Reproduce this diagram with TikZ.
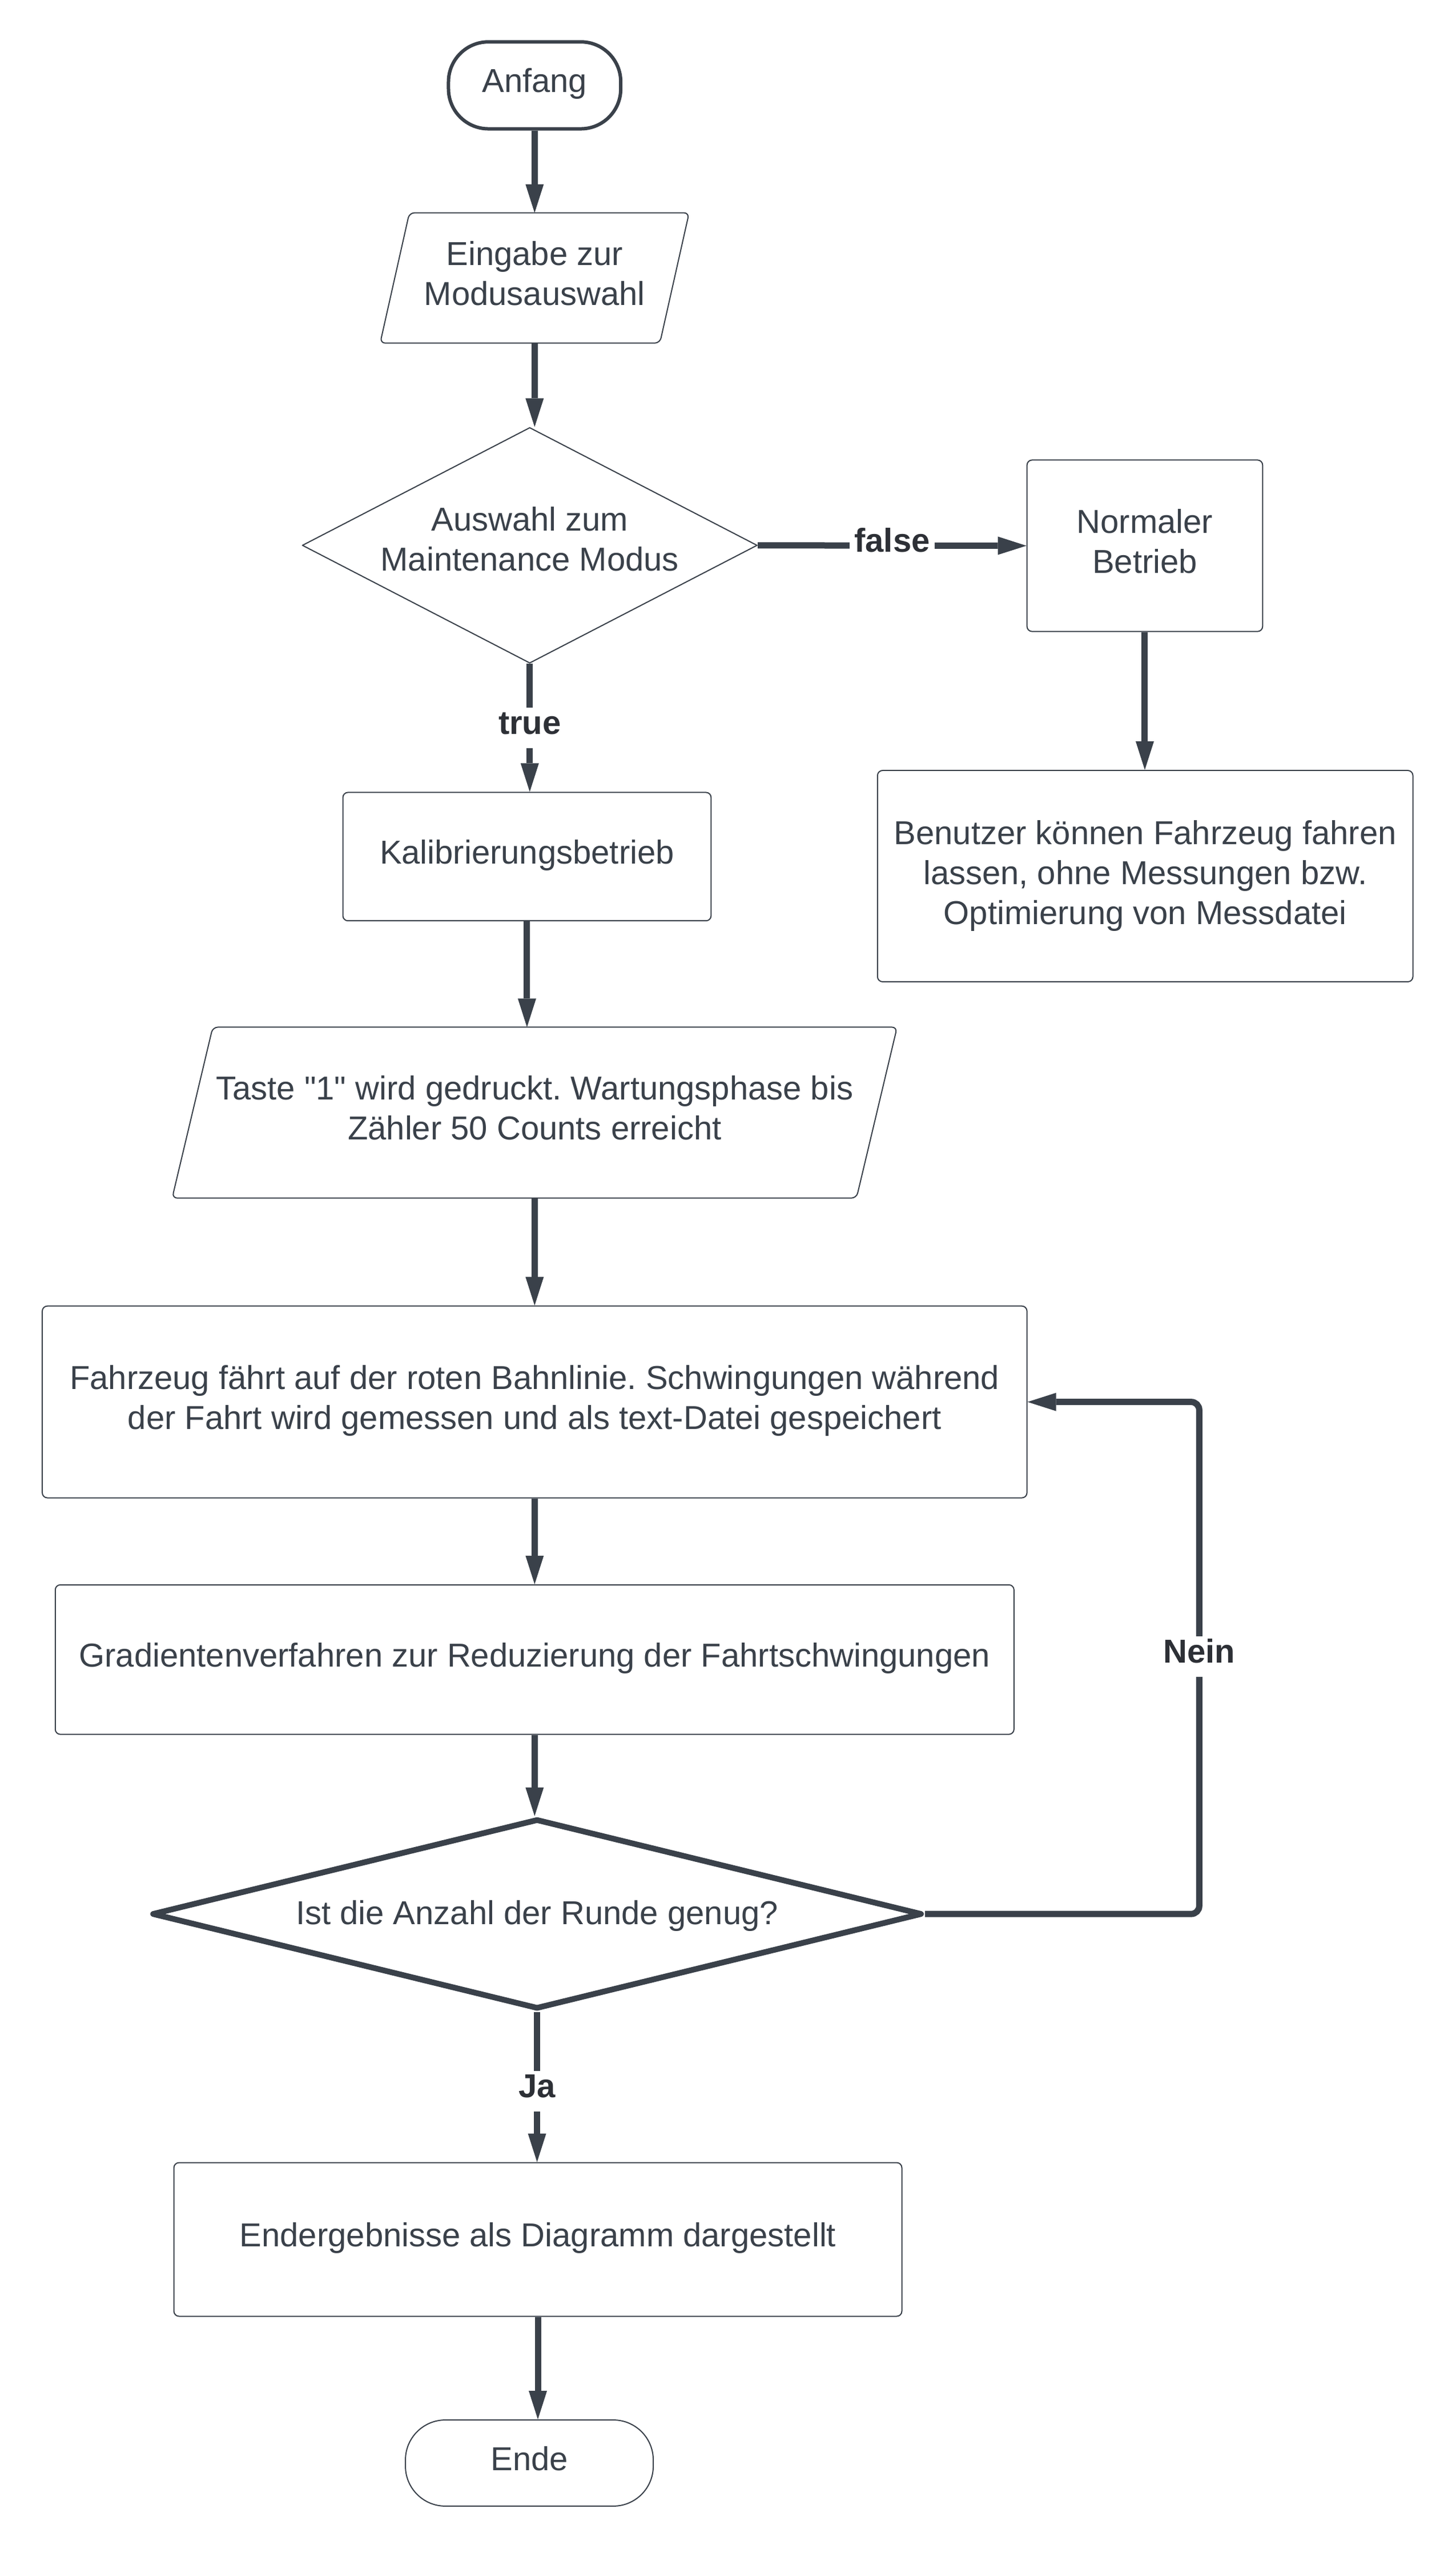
\documentclass[tikz,border=0pt]{standalone}
\usepackage{fontspec}
\setmainfont{Liberation Sans}[Ligatures=TeXOff]
\usetikzlibrary{arrows.meta,shapes.geometric}
\definecolor{lc}{RGB}{58,65,74}
\definecolor{lb}{RGB}{45,48,54}
\def\U{2.846pt}
\frenchspacing
\tikzset{
  dp/.style={execute at end node={\rule[-#1]{0pt}{#1}}},
  base/.style={text=lc, align=center, font=\fontsize{58}{70}\selectfont, inner sep=0pt},
  boxcore/.style={base, draw=lc, line width=2pt, rounded corners=9pt, fill=white},
  procbox/.style={boxcore, dp=17pt},
  term/.style={base, dp=17pt, draw=lc, fill=white, rounded corners=70pt},
  decis/.style={base, diamond, draw=lc, fill=white, line join=round},
  iobox/.style={base, dp=17pt},
  ioline/.style={draw=lc, line width=2pt, rounded corners=9pt},
  conn/.style={draw=lc, line width=11pt, -{Triangle[length=50pt,width=32pt,line width=0pt]}},
  lbl/.style={fill=white, text=lb, font=\bfseries\fontsize{58}{70}\selectfont, inner xsep=8pt, inner ysep=4.5pt, text height=42pt, text depth=20pt},
}
\begin{document}
\begin{tikzpicture}[x=\U, y=-\U]
\fill[white] (0,0) rectangle (896,1568.2);
\useasboundingbox (0,0) rectangle (896,1568.2);

% nodes
\node[term, line width=6pt, minimum width=106*\U, minimum height=53.5*\U] (start) at (329,52.5) {Anfang};

\node[iobox, minimum width=172*\U, minimum height=80*\U] (inp) at (329,171) {Eingabe zur\\Modusauswahl};
\draw[ioline] ([xshift=9*\U]inp.north west) -- ([xshift=9*\U]inp.north east) -- ([xshift=-9*\U]inp.south east) -- ([xshift=-9*\U]inp.south west) -- cycle;

\node[decis, line width=2pt, minimum width=280*\U, minimum height=145*\U] (d1) at (326,335.5) {};
\node[base, dp=17pt] (d1t) at (326,334.5) {Auswahl zum\\Maintenance Modus};

\node[procbox, minimum width=145*\U, minimum height=105.5*\U] (norm) at (704.5,335.75) {Normaler\\Betrieb};

\node[boxcore, minimum width=329.5*\U, minimum height=130*\U] (ben) at (704.75,539) {Benutzer können Fahrzeug fahren\\lassen, ohne Messungen bzw.\\Optimierung von Messdatei};

\node[procbox, minimum width=226.6*\U, minimum height=79*\U] (kal) at (324.3,527) {Kalibrierungsbetrieb};

\node[iobox, minimum width=421*\U, minimum height=105*\U] (taste) at (329,684.5) {Taste "1" wird gedruckt. Wartungsphase bis\\Zähler 50 Counts erreicht};
\draw[ioline] ([xshift=12.5*\U]taste.north west) -- ([xshift=12.5*\U]taste.north east) -- ([xshift=-12.5*\U]taste.south east) -- ([xshift=-12.5*\U]taste.south west) -- cycle;

\node[procbox, minimum width=606*\U, minimum height=118*\U] (fahr) at (329,862.5) {Fahrzeug fährt auf der roten Bahnlinie. Schwingungen während\\der Fahrt wird gemessen und als text-Datei gespeichert};

\node[procbox, minimum width=590*\U, minimum height=92*\U] (grad) at (329,1021) {Gradientenverfahren zur Reduzierung der Fahrtschwingungen};

\node[decis, line width=10pt, minimum width=474*\U, minimum height=117*\U] (d2) at (330.5,1177.5) {};
\node[base, dp=17pt] (d2t) at (330.5,1179.5) {Ist die Anzahl der Runde genug?};

\node[procbox, minimum width=448*\U, minimum height=94.5*\U] (endb) at (331,1377.75) {Endergebnisse als Diagramm dargestellt};

\node[term, line width=2pt, minimum width=152.5*\U, minimum height=53*\U] (ende) at (325.75,1515.3) {Ende};

% connectors
\draw[conn] (start.south) -- (inp.north);
\draw[conn] (inp.south) -- (inp.south |- d1.north);
\draw[conn] (d1.east) -- node[lbl, pos=0.5] (lfalse) {false} (norm.west);
\draw[conn] (d1.south) -- node[lbl] (ltrue) {true} (d1.south |- kal.north);
\draw[conn] (norm.south) -- (norm.south |- ben.north);
\draw[conn] (kal.south) -- (kal.south |- taste.north);
\draw[conn] (taste.south) -- (taste.south |- fahr.north);
\draw[conn] (fahr.south) -- (grad.north);
\draw[conn] (grad.south) -- (grad.south |- d2.north);
\draw[conn] (d2.south) -- node[lbl, pos=0.53] (lja) {Ja} (d2.south |- endb.north);
\draw[conn] (endb.south) -- (endb.south |- ende.north);
\coordinate (lp) at (738,1019);
\draw[conn, rounded corners=14pt] (d2.east) -| (lp) |- (fahr.east);
\node[lbl] (nein) at (lp) {Nein};
\end{tikzpicture}
\end{document}
